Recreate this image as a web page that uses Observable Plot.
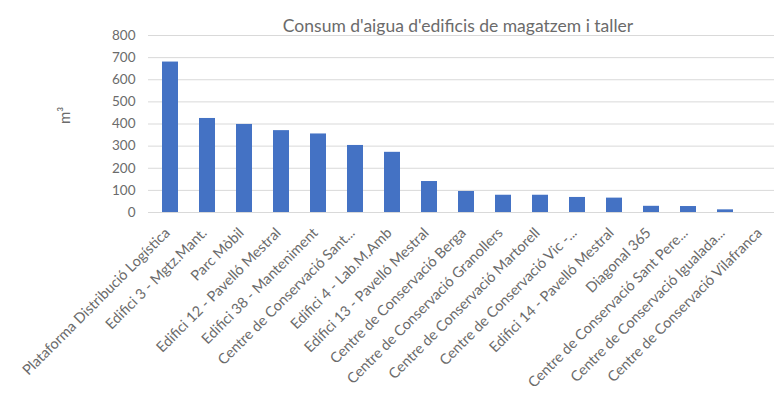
<!DOCTYPE html>
<html><head><meta charset="utf-8">
<script src="https://cdn.jsdelivr.net/npm/d3@7"></script>
<script src="https://cdn.jsdelivr.net/npm/@observablehq/plot@0.6"></script>
<style>body{margin:0;background:#fff;}</style>
</head><body><div id="chart"></div>
<script>
const title = ["Consum d'aigua d'edificis de magatzem i taller"];
const yLabel = ["m³"];
const buildings = [
  "Plataforma Distribució Logística",
  "Edifici 3 - Mgtz.Mant.",
  "Parc Mòbil",
  "Edifici 12 - Pavelló Mestral",
  "Edifici 38 - Manteniment",
  "Centre de Conservació Sant...",
  "Edifici 4 - Lab.M.Amb",
  "Edifici 13 - Pavelló Mestral",
  "Centre de Conservació Berga",
  "Centre de Conservació Granollers",
  "Centre de Conservació Martorell",
  "Centre de Conservació Vic -...",
  "Edifici 14 - Pavelló Mestral",
  "Diagonal 365",
  "Centre de Conservació Sant Pere...",
  "Centre de Conservació Igualada...",
  "Centre de Conservació Vilafranca"
];
const consum = [680, 425, 398, 370, 355, 303, 272, 140, 95, 78, 78, 68, 65, 28, 27, 12, 0];
const yTicks = [0, 100, 200, 300, 400, 500, 600, 700, 800];

const data = buildings.map((b, i) => ({building: b, value: consum[i]}));

const chart = Plot.plot({
  width: 774, height: 394,
  marginLeft: 148, marginRight: 0, marginTop: 35, marginBottom: 182,
  style: {fontFamily: "Lato", fontSize: "12px", color: "#6b6b6b", background: "#fff"},
  x: {domain: buildings, range: [148.3, 783], paddingInner: 0.57, paddingOuter: 0.285, align: 0.5},
  y: {domain: [0, 800]},
  marks: [
    Plot.ruleY(yTicks, {stroke: "#d9d9d9", strokeWidth: 1}),
    Plot.barY(data, {x: "building", y: "value", fill: "#4472c4"}),
    Plot.axisY({ticks: yTicks, tickSize: 0, tickPadding: 13, label: null, fontSize: 13.5}),
    Plot.axisX({tickSize: 0, tickRotate: -45, tickPadding: 18, dx: -3, label: null, fontSize: 14.5}),
    Plot.text(title, {frameAnchor: "top", dx: -3.5, dy: -16, fontSize: 17.5, fill: "#6b6b6b"}),
    Plot.text(yLabel, {frameAnchor: "left", dx: -83, rotate: -90, fontSize: 15, fill: "#6b6b6b"})
  ]
});
document.getElementById("chart").append(chart);
</script>
</body></html>
